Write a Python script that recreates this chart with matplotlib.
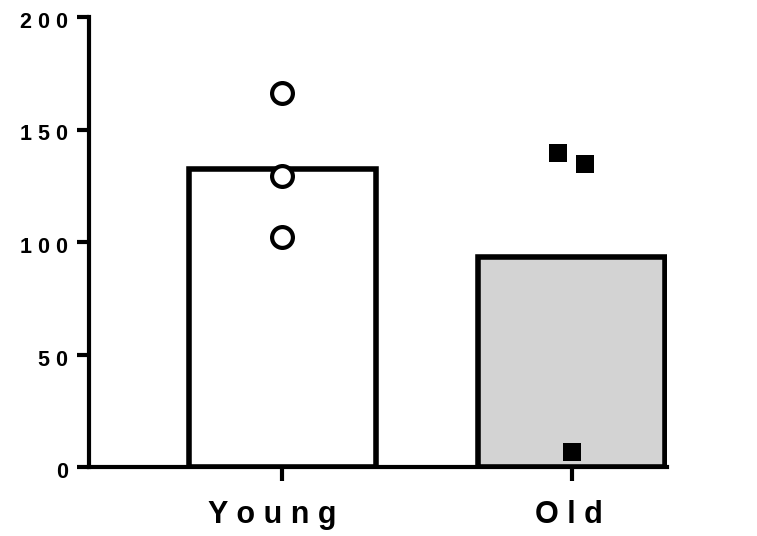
import numpy as np
import matplotlib
matplotlib.use("Agg")
import matplotlib.pyplot as plt
import matplotlib.transforms as mtransforms

# Group summary (bar heights) and individual points
groups = ["Young", "Old"]
bar_means = [132.6, 93.5]
bar_colors = ["white", "#d3d3d3"]

young_points = [166.4, 129.3, 102.1]
young_jitter = [0.0, 0.0, 0.0]
old_points = [139.4, 134.5, 6.5]
old_jitter = [-0.047, 0.046, 0.0]

y_ticks = [0, 50, 100, 150, 200]


def spaced(s):
    return " ".join(s)


plt.rcParams["font.family"] = ["Liberation Sans", "DejaVu Sans"]

fig = plt.figure(figsize=(7.57, 5.36), dpi=100)
ax = fig.add_axes([89 / 757, 1 - 467 / 536, (667 - 89) / 757, (467 - 17) / 536])

x = np.arange(len(groups))
ax.bar(x, bar_means, width=0.645, color=bar_colors, edgecolor="black",
       linewidth=4, zorder=1)

ax.plot(x[0] + np.array(young_jitter), young_points, "o", ms=15,
        mfc="white", mec="black", mew=3, zorder=3, clip_on=False)
ax.plot(x[1] + np.array(old_jitter), old_points, "s", ms=13,
        mfc="black", mec="black", mew=0, zorder=3, clip_on=False)

ax.set_xlim(-0.668, 1.33)
ax.set_ylim(0, 200)
ax.set_yticks(y_ticks)
ax.set_yticklabels([spaced(str(t)) for t in y_ticks], fontsize=15.5,
                   fontweight="bold")
ax.set_xticks(x)
ax.set_xticklabels([spaced(g) for g in groups], fontsize=22,
                   fontweight="bold")

for side in ["top", "right"]:
    ax.spines[side].set_visible(False)
for side in ["left", "bottom"]:
    ax.spines[side].set_linewidth(3)
    ax.spines[side].set_capstyle("projecting")

ax.tick_params(axis="y", length=9, width=3, pad=6)
ax.tick_params(axis="x", length=10, width=3, pad=14)

# small nudges so labels sit where the original puts them
for lab in ax.get_yticklabels():
    lab.set_transform(lab.get_transform() +
                      mtransforms.ScaledTranslation(0, -3 / 100, fig.dpi_scale_trans))
for lab, dx in zip(ax.get_xticklabels(), [-10, -3]):
    lab.set_transform(lab.get_transform() +
                      mtransforms.ScaledTranslation(dx / 100, 0, fig.dpi_scale_trans))

fig.savefig("out.png", dpi=100)
